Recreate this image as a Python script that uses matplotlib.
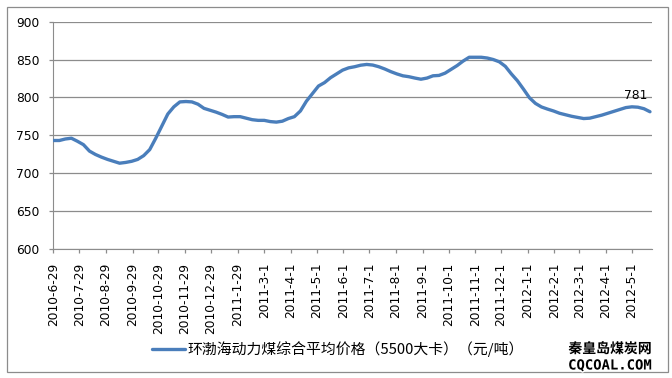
import numpy as np
import pandas as pd
import matplotlib
matplotlib.use('Agg')
import matplotlib.pyplot as plt
import matplotlib.patheffects as pe
from matplotlib.patches import Rectangle

plt.rcParams['font.family'] = ['DejaVu Sans']

# weekly price readings, starting 2010-6-29
start_date = '2010-06-29'
prices = [743, 743, 745, 746, 742, 737.5, 729, 724.5, 721, 718,
          715.5, 713, 714, 715.5, 718, 723, 731, 746, 762, 778,
          787.5, 794, 794.5, 794, 791, 785.5, 783, 780.5, 777.5, 774,
          774.5, 774.5, 772.5, 770.5, 769.6, 769.6, 768, 767.3, 768.5, 772,
          774.5, 782, 795, 805, 815, 819.5, 826, 831, 836, 839,
          840.5, 842.5, 843.5, 842.7, 840.5, 837.5, 834, 831, 828.5, 827.3,
          825.5, 824, 825.5, 828.5, 829, 832, 837, 842, 848, 853,
          853, 853, 852, 850, 847, 841, 831, 822, 811, 799.5,
          792, 787.3, 784.5, 782, 779, 777, 775, 773.5, 772, 772.5,
          774.5, 776.5, 779, 781.5, 784, 786.5, 787.5, 787, 785, 781]
dates = pd.date_range(start_date, periods=len(prices), freq='7D')

tick_labels = ['2010-6-29', '2010-7-29', '2010-8-29', '2010-9-29', '2010-10-29',
               '2010-11-29', '2010-12-29', '2011-1-29', '2011-3-1', '2011-4-1',
               '2011-5-1', '2011-6-1', '2011-7-1', '2011-8-1', '2011-9-1',
               '2011-10-1', '2011-11-1', '2011-12-1', '2012-1-1', '2012-2-1',
               '2012-3-1', '2012-4-1', '2012-5-1']
series_name = '环渤海动力煤综合平均价格（5500大卡）（元/吨）'
end_label = '781'

grid_color = '#8c8c8c'
line_color = '#4a7ebb'

fig = plt.figure(figsize=(6.72, 3.78), dpi=100)
ax = fig.add_axes([53.3 / 672, 1 - 248.7 / 378, (651.7 - 53.3) / 672, (248.7 - 21.7) / 378])

ax.plot(dates, prices, color=line_color, lw=2.4, solid_capstyle='round', zorder=3)

ax.set_ylim(600, 900)
ax.set_yticks(np.arange(600, 901, 50))
ax.set_xlim(pd.Timestamp(start_date), pd.Timestamp(start_date) + pd.Timedelta(days=695))
ax.set_xticks(pd.to_datetime(tick_labels))
ax.set_xticklabels(tick_labels, rotation=90)

ax.grid(axis='y', color=grid_color, lw=0.9)
ax.set_axisbelow(True)
for s in ['top', 'right']:
    ax.spines[s].set_visible(False)
ax.spines['left'].set_color(grid_color)
ax.spines['bottom'].set_color(grid_color)
ax.tick_params(axis='both', colors=grid_color, length=3, width=0.9, pad=7,
               labelcolor='black', labelsize=8.8)

# label at the last point
ax.annotate(end_label, (dates[-1], prices[-1]), xytext=(-10, 11.5), textcoords='offset points',
            ha='center', va='center', fontsize=8.8)

# legend below
fig.legend(ax.lines, [series_name], loc='center', bbox_to_anchor=(338 / 672, 1 - 349 / 378),
           frameon=False, handlelength=2.2, handletextpad=0.15,
           prop={'family': ['Noto Sans CJK SC', 'DejaVu Sans'], 'size': 10.7})

# outer chart border
fig.patches.append(Rectangle((7 / 672, 1 - 371.5 / 378), 661 / 672, 364.5 / 378,
                             transform=fig.transFigure, fill=False, ec=grid_color, lw=0.9))

# watermark
halo = [pe.withStroke(linewidth=2, foreground='white')]
fig.text(610 / 672, 1 - 349 / 378, '秦皇岛煤炭网', ha='center', va='center', fontsize=10,
         fontweight='bold', family=['Noto Sans CJK SC'], path_effects=halo)
fig.text(610 / 672, 1 - 365.5 / 378, 'CQCOAL.COM', ha='center', va='center', fontsize=10,
         fontweight='bold', family=['DejaVu Sans Mono'], path_effects=halo)

fig.savefig('out.png', dpi=100)
